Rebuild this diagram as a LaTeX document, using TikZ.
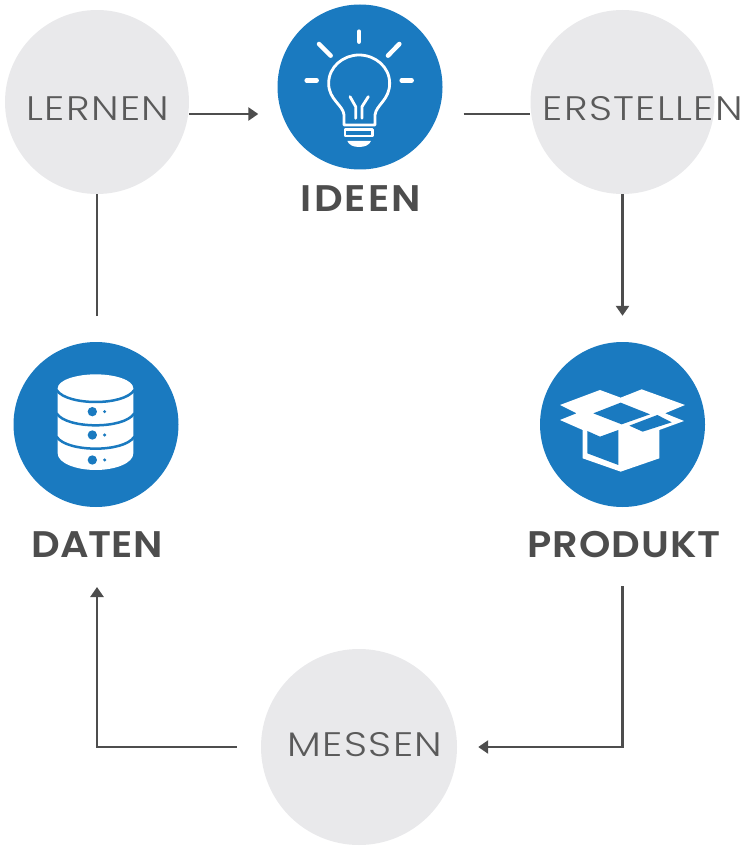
\documentclass[tikz,border=0pt]{standalone}
\usepackage{fontspec}
\setmainfont{Poppins}
\newfontfamily\lightf[LetterSpace=4,FakeStretch=1.18]{Poppins Light}
\newfontfamily\boldi[LetterSpace=6,FakeStretch=1.08]{Poppins SemiBold}
\newfontfamily\boldp[LetterSpace=3,FakeStretch=1.08]{Poppins SemiBold}
\newfontfamily\boldd[FakeStretch=1.08]{Poppins SemiBold}
\usetikzlibrary{arrows.meta}
\definecolor{blu}{HTML}{1A7AC0}
\definecolor{gry}{HTML}{E9E9EB}
\definecolor{ink}{HTML}{4D4D4D}
\definecolor{soft}{HTML}{5A5A5A}
\tikzset{
  graycirc/.style={circle,fill=gry,inner sep=0pt,minimum size=#1},
  bluecirc/.style={circle,fill=blu,inner sep=0pt,minimum size=165pt},
  thinlab/.style={text=soft,font=\lightf\fontsize{34}{34}\selectfont,inner sep=0pt,anchor=center},
  boldlab/.style={text=ink,inner sep=0pt,anchor=center},
  conn/.style={draw=ink,line width=2.8pt},
  arr/.style={conn,-{Triangle[length=10pt,width=13pt]}},
  icon/.style={x=0.3333pt,y=-0.3333pt},
  ray/.style={draw=white,line width=4.5pt,line cap=round},
  bulbline/.style={draw=white,line width=2.8pt,line join=round,line cap=round},
}
\begin{document}
\begin{tikzpicture}[x=1pt,y=-1pt]
\useasboundingbox (0,0) rectangle (745,850);
\node[graycirc=184pt] (lernen) at (97,102) {};
\node[graycirc=184pt] (erstellen) at (622.5,102) {};
\node[graycirc=196pt] (messen) at (359,747) {};
\node[bluecirc] (ideen) at (360,87) {};
\node[bluecirc] (produkt) at (622.5,424.5) {};
\node[bluecirc] (daten) at (96,424.5) {};
\node[thinlab] (tl) at (98,109) {LERNEN};
\node[thinlab] (te) at (643,109) {ERSTELLEN};
\node[thinlab] (tm) at (365,745) {MESSEN};
\node[boldlab,font=\boldi\fontsize{37}{37}\selectfont] (ti) at (361,199) {IDEEN};
\node[boldlab,font=\boldd\fontsize{37}{37}\selectfont] (td) at (97,545) {DATEN};
\node[boldlab,font=\boldp\fontsize{37}{37}\selectfont] (tp) at (624,545) {PRODUKT};
% connectors
\draw[arr] ([yshift=-12pt]lernen.east) -- ([xshift=-19pt,yshift=-27pt]ideen.west);
\draw[conn] ([xshift=21pt,yshift=-27pt]ideen.east) -- ([yshift=-12pt]erstellen.west);
\draw[arr] (erstellen.south) -- ([yshift=26pt]produkt.north);
\coordinate (c0) at (97,316);
\draw[conn] (c0) -- (lernen.south);
\coordinate (c1) at (622.5,747);
\coordinate (c2) at (97,747);
\coordinate (c3) at (97,587);
\draw[arr] ([yshift=-79pt]produkt.south) -- (c1) -- ([xshift=21pt]messen.east);
\draw[arr] ([xshift=-24pt]messen.west) -- (c2) -- (c3);
% bulb
\begin{scope}[shift={(270,0)},icon]
\draw[ray] (267,95)--(267,125);
\draw[ray] (147,132)--(182,167);
\draw[ray] (388,132)--(354,167);
\draw[ray] (110,241)--(140,241);
\draw[ray] (395,241)--(425,241);
\draw[bulbline] (222,375)--(222,345) .. controls (220,315) and (176,300) .. (176,250)
  .. controls (176,200) and (220,165) .. (267,165)
  .. controls (315,165) and (359,200) .. (359,250)
  .. controls (359,300) and (318,315) .. (315,345) -- (315,375) -- cycle;
\draw[bulbline] (240,290)--(257,320)--(257,355);
\draw[bulbline] (295,290)--(276,320)--(276,355);
\draw[bulbline] (225,388) rectangle (308,408);
\fill[white] (232,423) -- (303,423) .. controls (298,435) and (285,441) .. (267,441) .. controls (250,441) and (237,435) .. (232,423) -- cycle;
\end{scope}
% box
\begin{scope}[shift={(530,335)},icon]
\fill[white] (90,210)--(210,165)--(272,188)--(335,163)--(465,210)--(405,235)--(462,258)--(388,285)--(388,370)--(272,410)--(158,370)--(158,285)--(90,255)--(140,235)--cycle;
\fill[blu] (190,235)--(272,203)--(360,238)--(275,268)--cycle;
\fill[blu] (298,272)--(382,240)--(425,262)--(338,290)--cycle;
\fill[blu] (172,288)--(210,305)--(265,285)--(265,390)--(172,355)--cycle;
\end{scope}
% database
\begin{scope}[shift={(5,335)},icon]
\fill[white] (158,160) .. controls (158,135) and (215,118) .. (272,118)
  .. controls (330,118) and (385,135) .. (385,160) -- (385,355)
  .. controls (385,385) and (330,405) .. (272,405)
  .. controls (215,405) and (158,385) .. (158,355) -- cycle;
\foreach \y in {165,235,305}{
  \draw[blu,line width=2.5pt] (155,\y) .. controls (170,{\y+25}) and (225,{\y+36}) .. (272,{\y+36})
    .. controls (320,{\y+36}) and (372,{\y+25}) .. (388,\y);
}
\foreach \y in {230,300,375}{
  \fill[blu] (262,\y) circle[radius=14];
  \fill[blu] (299,\y) circle[radius=5];
}
\end{scope}
\end{tikzpicture}
\end{document}
